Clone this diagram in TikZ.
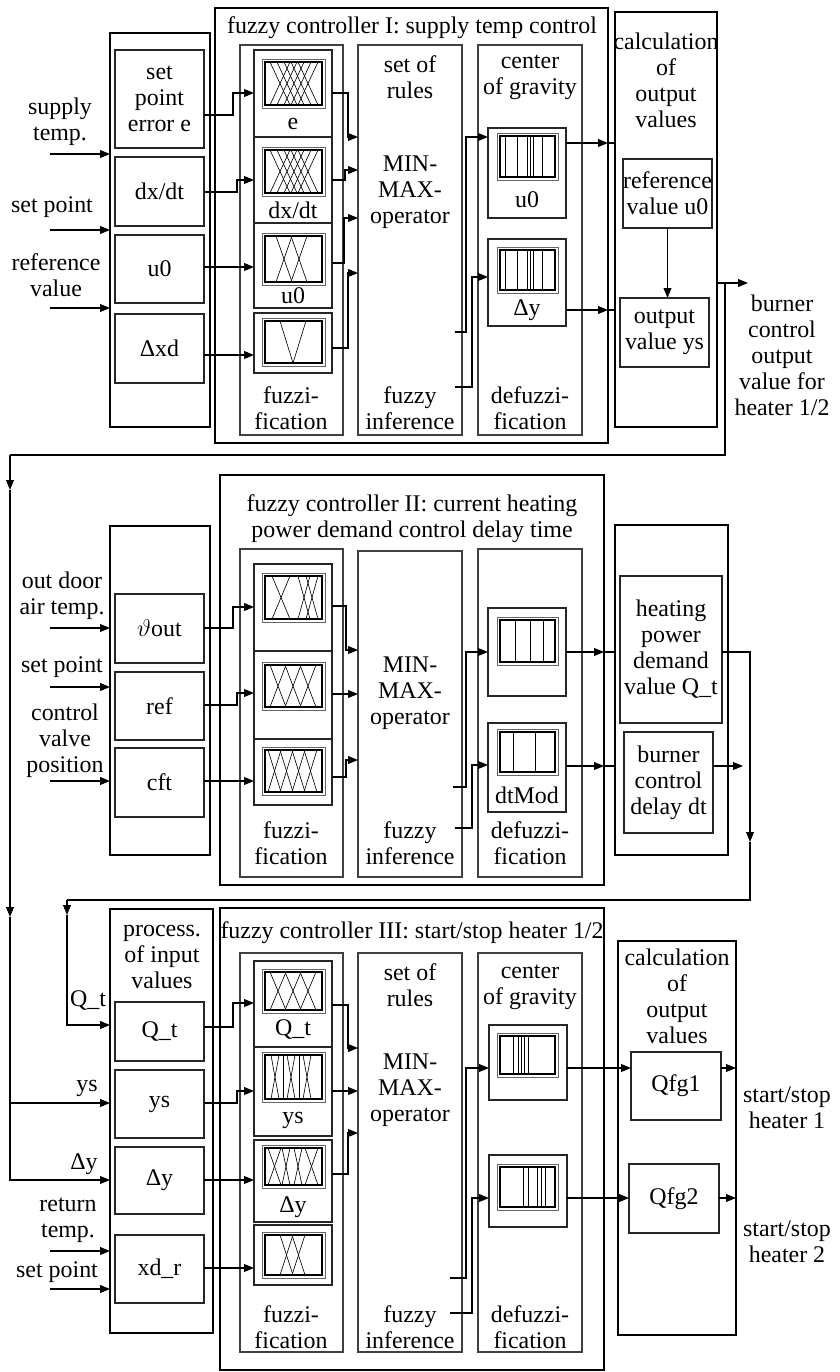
\documentclass[tikz,border=0pt]{standalone}
\usepackage{fontspec}
\setmainfont{Liberation Serif}
\usepackage{tikz}
\usetikzlibrary{arrows.meta,fit}
\tikzset{
  fzout/.style={draw, line width=1.8pt, inner sep=0pt, outer sep=0pt},
  fzcol/.style={draw=black!75, line width=0.9pt, inner sep=0pt, outer sep=0pt},
  fzin/.style={draw=black!85, line width=0.8pt, inner sep=0pt, outer sep=0pt},
  fzlbl/.style={align=center, inner sep=0pt},
  fzarrow/.style={-{Triangle[length=7pt,width=5.5pt]}, line width=0.8pt},
  fzline/.style={line width=0.8pt},
  mfframe/.style={draw=black!60, line width=0.6pt},
  mfinner/.style={draw, line width=1.3pt},
  mfline/.style={line width=0.45pt}
}
\newcommand{\mfpic}[3]{%
  \draw[mfframe] (262,#1) rectangle (325,#2);
  \draw[mfinner] (265,{#1+3}) rectangle (322,{#2-3});
  \foreach \p/\q in {#3} \draw[mfline] (\p,{#1+3}) -- (\q,{#2-3});
}
\newcommand{\dfpic}[3]{%
  \draw[mfframe] (497,#1) rectangle (558,#2);
  \draw[mfinner] (500,{#1+3}) rectangle (555,{#2-3});
  \foreach \p in {#3} \draw[mfline] (\p,{#1+3}) -- (\p,{#2-3});
}

\begin{document}
\begin{tikzpicture}[x=0.025cm, y=-0.025cm, font=\fontsize{17}{18.5}\selectfont]
  \useasboundingbox (0,0) rectangle (840,1372);

  \node[fzout, fit={(110,33) (210,427)}] (in1) {};
  \node[fzin, fit={(115,50) (204,148)}] (in1e) {};
  \node[fzin, fit={(115,157) (204,226)}] (in1dx) {};
  \node[fzin, fit={(115,235) (204,303)}] (in1u) {};
  \node[fzin, fit={(115,314) (204,383)}] (in1xd) {};
  \node[fzlbl] (in1et) at (in1e) {set\\point\\error e};
  \node[fzlbl] (in1dxt) at (in1dx) {dx/dt};
  \node[fzlbl] (in1ut) at (in1u) {u0};
  \node[fzlbl] (in1xdt) at (in1xd) {Δxd};
  \node[fzlbl] (lsup) at (60,122) {supply\\temp.};
  \node[fzlbl] (lset1) at (52,207) {set point};
  \node[fzlbl] (lref) at (56,275) {reference\\value};
  \coordinate (s1a) at (50,154);
  \coordinate (s1b) at (50,230);
  \coordinate (s1c) at (50,308);
  \draw[fzarrow] (s1a) -- (s1a -| in1.west);
  \draw[fzarrow] (s1b) -- (s1b -| in1.west);
  \draw[fzarrow] (s1c) -- (s1c -| in1.west);

  \node[fzout, fit={(215,8) (608,443)}] (c1) {};
  \node[fzlbl] (c1t) at (412,28) {fuzzy controller I: supply temp control};
  \node[fzcol, fit={(240,45) (343,435)}] (f1) {};
  \node[fzcol, fit={(358,45) (462,435)}] (i1) {};
  \node[fzcol, fit={(478,45) (582,435)}] (d1) {};
  \node[fzlbl] (f1t) at (291,408) {fuzzi-\\fication};
  \node[fzlbl] (i1a) at (410,77) {set of\\rules};
  \node[fzlbl] (i1b) at (410,192) {MIN-\\MAX-\\operator};
  \node[fzlbl] (i1c) at (410,408) {fuzzy\\inference};
  \node[fzlbl] (d1a) at (530,77) {center\\of gravity};
  \node[fzlbl] (d1b) at (530,408) {defuzzi-\\fication};

  \node[fzin, fit={(254,50) (332,137)}] (mf1e) {};
  \node[fzin, fit={(254,137) (332,223)}] (mf1dx) {};
  \node[fzin, fit={(254,223) (332,308)}] (mf1u) {};
  \node[fzin, fit={(254,313) (332,373)}] (mf1xd) {};
  \mfpic{59}{108}{270/290,290/270,277/297,297/277,284/304,304/284,291/311,311/291,298/318,318/298}
  \mfpic{147}{196}{270/290,290/270,277/297,297/277,284/304,304/284,291/311,311/291,298/318,318/298}
  \mfpic{233}{285}{276/292,292/276,291/307,307/291}
  \mfpic{318}{366}{280/293,306/293}
  \node[fzlbl] (mf1el) at (293,124) {e};
  \node[fzlbl] (mf1dxl) at (293,210) {dx/dt};
  \node[fzlbl] (mf1ul) at (293,296) {u0};

  \node[fzin, fit={(488,128) (566,218)}] (df1u) {};
  \node[fzin, fit={(488,239) (566,326)}] (df1y) {};
  \dfpic{133}{180}{505,517,527,530,533,542}
  \dfpic{247}{293}{505,517,527,530,533,542}
  \node[fzlbl] (df1ul) at (527,200) {u0};
  \node[fzlbl] (df1yl) at (527,310) {Δy};

  \node[fzout, fit={(615,12) (717,427)}] (k1) {};
  \node[fzlbl] (k1t) at (666,80) {calculation\\of\\output\\values};
  \node[fzin, fit={(623,159) (712,228)}] (k1ref) {};
  \node[fzin, fit={(620,298) (709,367)}] (k1out) {};
  \node[fzlbl] (k1reft) at (k1ref) {reference\\value u0};
  \node[fzlbl] (k1outt) at (k1out) {output\\value ys};
  \node[fzlbl] (o1) at (782,355) {burner\\control\\output\\value for\\heater 1/2};

  \draw[fzarrow] (in1e.east |- 0,115) -- (233,115) |- (mf1e.west |- 0,93);
  \draw[fzarrow] (in1dx.east |- 0,192) -- (237,192) |- (mf1dx.west |- 0,180);
  \draw[fzarrow] (in1u.east |- 0,267) -- (mf1u.west |- 0,267);
  \draw[fzarrow] (in1xd.east |- 0,355) -- (mf1xd.west |- 0,355);
  \draw[fzarrow] (mf1e.east |- 0,93) -- (348,93) |- (i1.west |- 0,137);
  \draw[fzarrow] (mf1dx.east |- 0,180) -- (345,180) |- (i1.west |- 0,170);
  \draw[fzarrow] (mf1u.east |- 0,263) -- (344,263) |- (i1.west |- 0,218);
  \draw[fzarrow] (mf1xd.east |- 0,348) -- (348,348) |- (i1.west |- 0,273);
  \draw[fzarrow] (i1.east |- 0,332) ++(-7,0) -- (466,332) |- (df1u.west |- 0,137);
  \draw[fzarrow] (i1.east |- 0,387) ++(-7,0) -- (472,387) |- (df1y.west |- 0,277);
  \draw[fzarrow] (df1u.east |- 0,143) -- (c1.east |- 0,143);
  \draw[fzline] (c1.east |- 0,143) -- (k1.west |- 0,143);
  \draw[fzarrow] (df1y.east |- 0,310) -- (c1.east |- 0,310);
  \draw[fzline] (c1.east |- 0,310) -- (k1.west |- 0,310);
  \draw[fzarrow] (k1ref.south) -- (k1ref.south |- k1out.north);
  \coordinate (o1e) at (748,283);
  \draw[fzarrow] (o1e -| k1.east) -- (o1e);

  \coordinate (fbA) at (725,283);
  \coordinate (fbB) at (725,455);
  \coordinate (fbC) at (10,455);
  \coordinate (fbD) at (10,490);
  \coordinate (fbE) at (10,917);
  \draw[fzline] (fbA) -- (fbB) -- (fbC);
  \draw[fzarrow] (fbC) -- (fbD);
  \draw[fzarrow] (fbD) -- (fbE);

  \node[fzout, fit={(110,526) (210,855)}] (in2) {};
  \node[fzin, fit={(115,594) (204,663)}] (in2t) {};
  \node[fzin, fit={(115,672) (204,740)}] (in2r) {};
  \node[fzin, fit={(115,748) (204,817)}] (in2c) {};
  \node[fzlbl] (in2tt) at (in2t) {$\vartheta$out};
  \node[fzlbl] (in2rt) at (in2r) {ref};
  \node[fzlbl] (in2ct) at (in2c) {cft};
  \node[fzlbl] (lodt) at (62,596) {out door\\air temp.};
  \node[fzlbl] (lset2) at (62,667) {set point};
  \node[fzlbl] (lcvp) at (65,741) {control\\valve\\position};
  \coordinate (s2a) at (50,628);
  \coordinate (s2b) at (50,687);
  \coordinate (s2c) at (50,781);
  \draw[fzarrow] (s2a) -- (s2a -| in2.west);
  \draw[fzarrow] (s2b) -- (s2b -| in2.west);
  \draw[fzarrow] (s2c) -- (s2c -| in2.west);

  \node[fzout, fit={(220,475) (604,885)}] (c2) {};
  \node[fzlbl] (c2t) at (412,519) {fuzzy controller II: current heating\\power demand control delay time};
  \node[fzcol, fit={(240,549) (343,877)}] (f2) {};
  \node[fzcol, fit={(358,551) (462,877)}] (i2) {};
  \node[fzcol, fit={(478,549) (582,877)}] (d2) {};
  \node[fzlbl] (f2t) at (291,843) {fuzzi-\\fication};
  \node[fzlbl] (i2b) at (410,693) {MIN-\\MAX-\\operator};
  \node[fzlbl] (i2c) at (410,843) {fuzzy\\inference};
  \node[fzlbl] (d2b) at (530,843) {defuzzi-\\fication};

  \node[fzin, fit={(254,564) (332,651)}] (mf2a) {};
  \node[fzin, fit={(254,651) (332,739)}] (mf2b) {};
  \node[fzin, fit={(254,739) (332,805)}] (mf2c) {};
  \mfpic{573}{622}{272/290,290/272,298/310,310/298,306/318,318/306}
  \mfpic{662}{710}{270/286,286/270,285/301,301/285,300/316,316/300}
  \mfpic{747}{795}{268/281,281/268,280/293,293/280,292/305,305/292,304/317,317/304}

  \node[fzin, fit={(488,608) (566,696)}] (df2a) {};
  \node[fzin, fit={(488,723) (566,812)}] (df2b) {};
  \dfpic{617}{665}{515,530,543}
  \dfpic{729}{775}{513,535}
  \node[fzlbl] (df2bl) at (527,795) {dtMod};

  \node[fzout, fit={(615,525) (728,855)}] (k2) {};
  \node[fzin, fit={(620,576) (722,723)}] (k2q) {};
  \node[fzin, fit={(624,732) (713,833)}] (k2dt) {};
  \node[fzlbl] (k2qt) at (k2q) {heating\\power\\demand\\value Q\_t};
  \node[fzlbl] (k2dtt) at (k2dt) {burner\\control\\delay dt};

  \draw[fzarrow] (in2t.east |- 0,628) -- (233,628) |- (mf2a.west |- 0,607);
  \draw[fzarrow] (in2r.east |- 0,705) -- (237,705) |- (mf2b.west |- 0,693);
  \draw[fzarrow] (in2c.east |- 0,781) -- (mf2c.west |- 0,781);
  \draw[fzarrow] (mf2a.east |- 0,606) -- (346,606) |- (i2.west |- 0,650);
  \draw[fzarrow] (mf2b.east |- 0,694) -- (i2.west |- 0,694);
  \draw[fzarrow] (mf2c.east |- 0,777) -- (346,777) |- (i2.west |- 0,760);
  \draw[fzarrow] (i2.east |- 0,787) ++(-9,0) -- (466,787) |- (df2a.west |- 0,652);
  \draw[fzarrow] (i2.east |- 0,828) ++(-7,0) -- (472,828) |- (df2b.west |- 0,765);
  \draw[fzarrow] (df2a.east |- 0,652) -- (c2.east |- 0,652);
  \draw[fzline] (c2.east |- 0,652) -- (k2.west |- 0,652);
  \draw[fzarrow] (df2b.east |- 0,766) -- (c2.east |- 0,766);
  \draw[fzline] (c2.east |- 0,766) -- (k2.west |- 0,766);
  \coordinate (q6) at (743,766);
  \draw[fzarrow] (k2dt.east |- q6) -- (q6);

  \coordinate (q2) at (750,842);
  \coordinate (q3) at (750,900);
  \coordinate (q4) at (67,900);
  \coordinate (q5) at (67,915);
  \draw[fzarrow] (k2q.east |- 0,652) -| (q2);
  \draw[fzline] (q2) -- (q3) -- (q4);
  \draw[fzarrow] (q4) -- (q5);

  \node[fzout, fit={(110,909) (213,1333)}] (in3) {};
  \node[fzlbl] (in3t) at (162,957) {process.\\of input\\values};
  \node[fzin, fit={(115,1002) (204,1061)}] (in3q) {};
  \node[fzin, fit={(115,1070) (204,1138)}] (in3ys) {};
  \node[fzin, fit={(115,1147) (204,1214)}] (in3dy) {};
  \node[fzin, fit={(115,1235) (204,1303)}] (in3xd) {};
  \node[fzlbl] (in3qt) at (in3q) {Q\_t};
  \node[fzlbl] (in3yst) at (in3ys) {ys};
  \node[fzlbl] (in3dyt) at (in3dy) {Δy};
  \node[fzlbl] (in3xdt) at (in3xd) {xd\_r};
  \node[fzlbl] (lq) at (88,1001) {Q\_t};
  \node[fzlbl] (lys) at (87,1088) {ys};
  \node[fzlbl] (ldy) at (84,1164) {Δy};
  \node[fzlbl] (lret) at (68,1220) {return\\temp.};
  \node[fzlbl] (lset3) at (57,1272) {set point};
  \coordinate (s3a) at (50,1251);
  \coordinate (s3b) at (50,1289);
  \draw[fzarrow] (s3a) -- (s3a -| in3.west);
  \draw[fzarrow] (s3b) -- (s3b -| in3.west);
  \draw[fzarrow] (q5) |- (in3.west |- 0,1025);
  \draw[fzarrow] (fbE) |- (in3.west |- 0,1180);
  \draw[fzarrow] (fbE |- 0,1103) -- (in3.west |- 0,1103);

  \node[fzout, fit={(220,908) (604,1370)}] (c3) {};
  \node[fzlbl] (c3t) at (412,933) {fuzzy controller III: start/stop heater 1/2};
  \node[fzcol, fit={(240,953) (343,1352)}] (f3) {};
  \node[fzcol, fit={(358,953) (462,1352)}] (i3) {};
  \node[fzcol, fit={(478,953) (582,1352)}] (d3) {};
  \node[fzlbl] (f3t) at (291,1327) {fuzzi-\\fication};
  \node[fzlbl] (i3a) at (410,985) {set of\\rules};
  \node[fzlbl] (i3b) at (410,1090) {MIN-\\MAX-\\operator};
  \node[fzlbl] (i3c) at (410,1327) {fuzzy\\inference};
  \node[fzlbl] (d3a) at (530,987) {center\\of gravity};
  \node[fzlbl] (d3b) at (530,1327) {defuzzi-\\fication};

  \node[fzin, fit={(254,961) (332,1047)}] (mf3a) {};
  \node[fzin, fit={(254,1047) (332,1136)}] (mf3b) {};
  \node[fzin, fit={(254,1140) (332,1222)}] (mf3c) {};
  \node[fzin, fit={(254,1225) (332,1285)}] (mf3d) {};
  \mfpic{969}{1013}{270/286,286/270,285/301,301/285,300/316,316/300}
  \mfpic{1052}{1102}{271/279,279/271,287/295,295/287,303/311,311/303,283/283,299/299}
  \mfpic{1145}{1188}{268/281,281/268,282/290,290/282,294/302,302/294,305/318,318/305}
  \mfpic{1232}{1278}{280/293,293/280,292/305,305/292}
  \node[fzlbl] (mf3al) at (293,1030) {Q\_t};
  \node[fzlbl] (mf3bl) at (293,1120) {ys};
  \node[fzlbl] (mf3cl) at (293,1207) {Δy};

  \node[fzin, fit={(489,1025) (567,1100)}] (df3a) {};
  \node[fzin, fit={(489,1155) (567,1227)}] (df3b) {};
  \dfpic{1033}{1077}{513,518,521,524,528}
  \dfpic{1164}{1210}{523,528,537,541,545}

  \node[fzout, fit={(618,941) (736,1335)}] (k3) {};
  \node[fzlbl] (k3t) at (677,996) {calculation\\of\\output\\values};
  \node[fzin, fit={(631,1052) (721,1120)}] (k3a) {};
  \node[fzin, fit={(629,1164) (719,1233)}] (k3b) {};
  \node[fzlbl] (k3at) at (k3a) {Qfg1};
  \node[fzlbl] (k3bt) at (k3b) {Qfg2};
  \node[fzlbl] (o3a) at (787,1108) {start/stop\\heater 1};
  \node[fzlbl] (o3b) at (787,1242) {start/stop\\heater 2};

  \draw[fzarrow] (in3q.east |- 0,1027) -- (233,1027) |- (mf3a.west |- 0,1003);
  \draw[fzarrow] (in3ys.east |- 0,1103) -- (237,1103) |- (mf3b.west |- 0,1091);
  \draw[fzarrow] (in3dy.east |- 0,1180) -- (mf3c.west |- 0,1180);
  \draw[fzarrow] (in3xd.east |- 0,1268) -- (mf3d.west |- 0,1268);
  \draw[fzarrow] (mf3a.east |- 0,1005) -- (348,1005) |- (i3.west |- 0,1048);
  \draw[fzarrow] (mf3b.east |- 0,1091) -- (i3.west |- 0,1091);
  \draw[fzarrow] (mf3c.east |- 0,1174) -- (348,1174) |- (i3.west |- 0,1133);
  \draw[fzarrow] (i3.east |- 0,1278) ++(-12,0) -- (466,1278) |- (df3a.west |- 0,1068);
  \draw[fzarrow] (i3.east |- 0,1313) ++(-12,0) -- (472,1313) |- (df3b.west |- 0,1198);
  \draw[fzarrow] (df3a.east |- 0,1068) -- (k3a.west |- 0,1068);
  \draw[fzarrow] (df3b.east |- 0,1198) -- (k3b.west |- 0,1198);
  \draw[fzarrow] (k3a.east |- 0,1068) -- (k3.east |- 0,1068);
  \draw[fzarrow] (k3b.east |- 0,1198) -- (k3.east |- 0,1198);
\end{tikzpicture}
\end{document}
